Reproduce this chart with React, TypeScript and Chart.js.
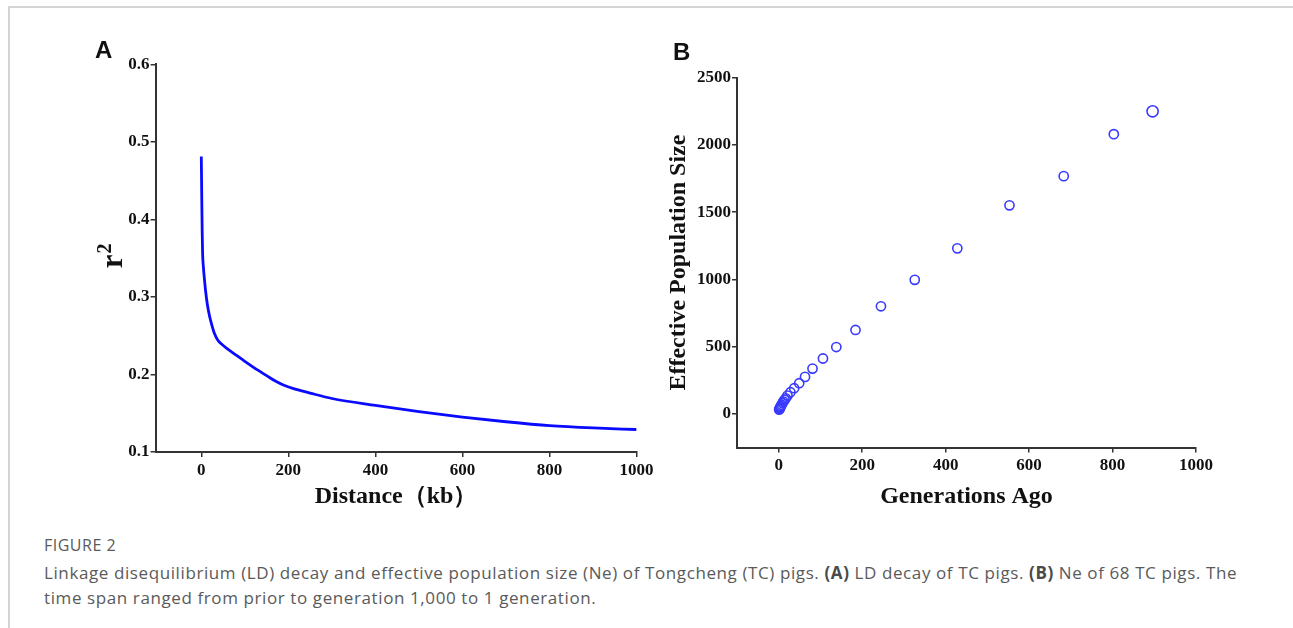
import React, { useEffect, useRef } from "react";
import { Chart, registerables } from "chart.js";

Chart.register(...registerables);

// ---- Panel A: LD decay ----
const distanceKb = [0, 1, 2, 3, 5, 7, 10, 14, 19, 25, 30, 38, 49, 60, 80, 100, 130, 150, 170, 190, 210, 250, 300, 400, 500, 600, 700, 800, 900, 1000];
const r2Values = [0.481, 0.43, 0.385, 0.356, 0.337, 0.324, 0.307, 0.29, 0.275, 0.262, 0.253, 0.244, 0.238, 0.233, 0.225, 0.217, 0.2055, 0.1985, 0.1915, 0.186, 0.182, 0.176, 0.169, 0.16, 0.152, 0.145, 0.139, 0.134, 0.131, 0.129];
const xTicksA = [0, 200, 400, 600, 800, 1000];
const yTicksA = [0.1, 0.2, 0.3, 0.4, 0.5, 0.6];

// ---- Panel B: effective population size ----
const generationsAgo = [1, 2, 3, 4, 5, 7, 9, 11, 14, 17, 21, 28, 37, 49, 63, 81, 106, 138, 184, 245, 326, 428, 553, 683, 803, 896];
const effectiveSize = [32, 37, 43, 50, 58, 68, 80, 91, 104, 116, 136, 161, 191, 228, 275, 337, 412, 497, 624, 800, 997, 1231, 1551, 1768, 2080, 2250];
const xTicksB = [0, 200, 400, 600, 800, 1000];
const yTicksB = [0, 500, 1000, 1500, 2000, 2500];

const SERIF = '"Liberation Serif", "Times New Roman", serif';
const AXIS_COLOR = "#333333";

function makeAxis(o: any) {
  return {
    type: "linear",
    min: o.min,
    max: o.max,
    afterBuildTicks: (s: any) => {
      s.ticks = o.ticks.map((v: number) => ({ value: v }));
    },
    afterFit: (s: any) => {
      if (o.width !== undefined) s.width = o.width;
      if (o.height !== undefined) s.height = o.height;
    },
    ticks: {
      color: "#111111",
      padding: o.tickPadding,
      font: { family: SERIF, size: 17, weight: "bold" },
      callback: o.format,
      autoSkip: false,
      maxRotation: 0,
    },
    grid: {
      display: true,
      drawOnChartArea: false,
      drawTicks: true,
      tickLength: 5,
      color: AXIS_COLOR,
      lineWidth: 1.5,
    },
    border: { display: true, color: AXIS_COLOR, width: 2 },
    title: o.title
      ? {
          display: true,
          text: o.title,
          color: "#111111",
          font: { family: SERIF, size: o.titleSize, weight: "bold" },
          padding: o.titlePadding,
        }
      : { display: false },
  };
}

const rSquaredLabel = {
  id: "rSquaredLabel",
  afterDraw(chart: any) {
    const { ctx, chartArea } = chart;
    const cy = (chartArea.top + chartArea.bottom) / 2;
    const bx = chartArea.left - 34;
    ctx.save();
    ctx.fillStyle = "#111111";
    ctx.translate(bx, cy + 10);
    ctx.rotate(-Math.PI / 2);
    ctx.textAlign = "left";
    ctx.textBaseline = "alphabetic";
    ctx.font = `bold 31px ${SERIF}`;
    ctx.fillText("r", 0, 0);
    const w = ctx.measureText("r").width;
    ctx.font = `bold 20px ${SERIF}`;
    ctx.fillText("2", w + 1, -11);
    ctx.restore();
  },
};

function PanelA() {
  const ref = useRef<HTMLCanvasElement | null>(null);
  useEffect(() => {
    if (!ref.current) return;
    const chart = new Chart(ref.current, {
      type: "line",
      data: {
        datasets: [
          {
            data: distanceKb.map((x, i) => ({ x, y: r2Values[i] })),
            borderColor: "#0a0aff",
            borderWidth: 2.8,
            pointRadius: 0,
            cubicInterpolationMode: "monotone",
            fill: false,
          },
        ],
      },
      options: {
        animation: false,
        responsive: false,
        maintainAspectRatio: false,
        layout: { padding: { top: 34.3, right: 33.4, left: 0, bottom: 0 } },
        plugins: { legend: { display: false }, tooltip: { enabled: false } },
        scales: {
          x: makeAxis({
            min: -105,
            max: 1000,
            ticks: xTicksA,
            height: 68,
            tickPadding: 3,
            format: (v: number) => String(v),
            title: "Distance（kb）",
            titleSize: 24,
            titlePadding: { top: 0, bottom: 8.6 },
          }),
          y: makeAxis({
            min: 0.1,
            max: 0.6,
            ticks: yTicksA,
            width: 105.6,
            tickPadding: 1,
            format: (v: number) => v.toFixed(1),
          }),
        },
      } as any,
      plugins: [rSquaredLabel],
    } as any);
    return () => chart.destroy();
  }, []);
  return (
    <canvas
      ref={ref}
      width={620}
      height={490}
      style={{ position: "absolute", left: 50, top: 30, width: 620, height: 490 }}
    />
  );
}

function PanelB() {
  const ref = useRef<HTMLCanvasElement | null>(null);
  useEffect(() => {
    if (!ref.current) return;
    const last = generationsAgo.length - 1;
    const chart = new Chart(ref.current, {
      type: "scatter",
      data: {
        datasets: [
          {
            data: generationsAgo.map((x, i) => ({ x, y: effectiveSize[i] })),
            pointStyle: "circle",
            pointRadius: (c: any) => (c.dataIndex === last ? 5.6 : 4.6),
            pointBorderWidth: 1.6,
            pointBorderColor: "#3a3aff",
            pointBackgroundColor: "rgba(255,255,255,0)",
            showLine: false,
          },
        ],
      },
      options: {
        animation: false,
        responsive: false,
        maintainAspectRatio: false,
        layout: { padding: { top: 47.7, right: 84, left: 0, bottom: 0 } },
        plugins: { legend: { display: false }, tooltip: { enabled: false } },
        scales: {
          x: makeAxis({
            min: -100,
            max: 1000,
            ticks: xTicksB,
            height: 72.5,
            tickPadding: 3,
            format: (v: number) => String(v),
            title: "Generations Ago",
            titleSize: 24,
            titlePadding: { top: 0, bottom: 8.9 },
          }),
          y: makeAxis({
            min: -250,
            max: 2500,
            ticks: yTicksB,
            width: 77,
            tickPadding: 1,
            format: (v: number) => String(v),
            title: "Effective Population Size",
            titleSize: 24,
            titlePadding: { top: 3.9, bottom: 0 },
          }),
        },
      } as any,
    } as any);
    return () => chart.destroy();
  }, []);
  return (
    <canvas
      ref={ref}
      width={620}
      height={490}
      style={{ position: "absolute", left: 660, top: 30, width: 620, height: 490 }}
    />
  );
}

export default function App() {
  const capFont = '"Open Sans", "Noto Sans", sans-serif';
  return (
    <div
      style={{
        position: "absolute",
        left: 0,
        top: 0,
        width: 1293,
        height: 628,
        background: "#ffffff",
        overflow: "hidden",
      }}
    >
      <div
        style={{
          position: "absolute",
          left: 8,
          top: 6,
          right: -2,
          bottom: -2,
          borderTop: "2px solid #d4d4d4",
          borderLeft: "2px solid #d4d4d4",
        }}
      />
      <PanelA />
      <PanelB />
      <div
        style={{
          position: "absolute",
          left: 95,
          top: 38,
          font: 'bold 24px/24px "Liberation Sans", Arial, sans-serif',
          color: "#111111",
        }}
      >
        A
      </div>
      <div
        style={{
          position: "absolute",
          left: 673,
          top: 40,
          font: 'bold 24px/24px "Liberation Sans", Arial, sans-serif',
          color: "#111111",
        }}
      >
        B
      </div>
      <div
        style={{
          position: "absolute",
          left: 44,
          top: 533,
          width: 1200,
          fontFamily: capFont,
          color: "#5a5a5a",
          fontSize: 17,
          letterSpacing: "0.6px",
          lineHeight: "25px",
        }}
      >
        <div style={{ marginBottom: 2, fontSize: 16, letterSpacing: "0.5px" }}>FIGURE 2</div>
        <div>
          Linkage disequilibrium (LD) decay and effective population size (Ne) of Tongcheng (TC) pigs.{" "}
          <b style={{ color: "#4a4a4a" }}>(A)</b> LD decay of TC pigs.{" "}
          <b style={{ color: "#4a4a4a" }}>(B)</b> Ne of 68 TC pigs. The
          <br />
          time span ranged from prior to generation 1,000 to 1 generation.
        </div>
      </div>
    </div>
  );
}
